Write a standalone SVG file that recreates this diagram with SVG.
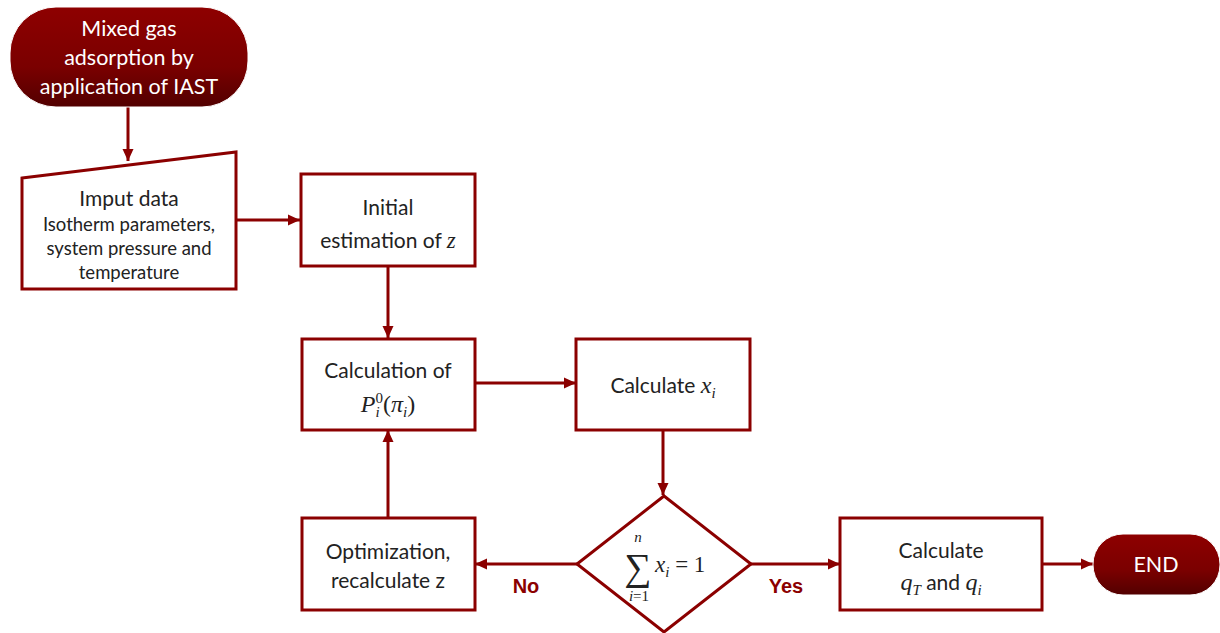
<svg xmlns="http://www.w3.org/2000/svg" width="1220" height="633" viewBox="0 0 1220 633">
<style>
.box{fill:#fff;stroke:#8b0000;stroke-width:3}
.term{fill:url(#g);stroke:#fff;stroke-width:1}
.t{font-family:Lato,"Noto Sans",sans-serif;font-size:21px;fill:#222;text-anchor:middle}
.s{font-size:18.5px}
.w{fill:#fff;font-size:21.5px}
.m{font-family:"Liberation Serif",serif;font-style:italic}
.n{font-family:"Liberation Serif",serif}
.c{fill:none;stroke:#8b0000;stroke-width:3}
.lab{font-family:"Liberation Sans",Arial,sans-serif;font-weight:bold;font-size:20px;fill:#8b0000;text-anchor:middle}
</style>
<defs>
<linearGradient id="g" x1="0" y1="0" x2="0" y2="1">
<stop offset="0" stop-color="#8e0000"/>
<stop offset="0.6" stop-color="#7a0000"/>
<stop offset="1" stop-color="#520000"/>
</linearGradient>
<marker id="a" markerWidth="13" markerHeight="12" refX="12" refY="6" orient="auto" markerUnits="userSpaceOnUse">
<path d="M0,0.5 L12,6 L0,11.5 Z" fill="#8b0000"/>
</marker>
</defs>
<rect width="1220" height="633" fill="#fff"/>
<g id="connectors">
<line class="c" x1="128" y1="106" x2="128" y2="161" marker-end="url(#a)"/>
<line class="c" x1="236" y1="220" x2="300" y2="220" marker-end="url(#a)"/>
<line class="c" x1="388" y1="266" x2="388" y2="338" marker-end="url(#a)"/>
<line class="c" x1="475" y1="383" x2="576" y2="383" marker-end="url(#a)"/>
<line class="c" x1="663" y1="430" x2="663" y2="495" marker-end="url(#a)"/>
<line class="c" x1="577" y1="564" x2="475" y2="564" marker-end="url(#a)"/>
<line class="c" x1="751" y1="564" x2="840" y2="564" marker-end="url(#a)"/>
<line class="c" x1="1042" y1="564" x2="1093" y2="564" marker-end="url(#a)"/>
<line class="c" x1="388" y1="518" x2="388" y2="430" marker-end="url(#a)"/>
<text class="lab" x="526" y="593">No</text>
<text class="lab" x="786" y="593">Yes</text>
</g>
<g id="start">
<rect class="term" x="10" y="7" width="238" height="100" rx="46"/>
<text class="t w" x="129" y="36">Mixed gas</text>
<text class="t w" x="129" y="65">adsorption by</text>
<text class="t w" x="129" y="94">application of IAST</text>
</g>
<g id="input">
<path class="box" d="M22,178 L236,152 L236,289 L22,289 Z"/>
<text class="t" x="129" y="206">Imput data</text>
<text class="t s" x="129" y="231">Isotherm parameters,</text>
<text class="t s" x="129" y="255">system pressure and</text>
<text class="t s" x="129" y="279">temperature</text>
</g>
<g id="init">
<rect class="box" x="301" y="174" width="174" height="92"/>
<text class="t" x="388" y="215">Initial</text>
<text class="t" x="388" y="248">estimation of <tspan class="m" font-size="23">z</tspan></text>
</g>
<g id="calcP">
<rect class="box" x="302" y="339" width="173" height="91"/>
<text class="t" x="388" y="378">Calculation of</text>
<text class="t" x="388" y="412"><tspan class="m" font-size="24">P</tspan><tspan class="m" font-size="15" dy="5">i</tspan><tspan class="n" font-size="15" dx="-4" dy="-14">0</tspan><tspan class="n" font-size="24" dy="9">(</tspan><tspan class="m" font-size="24">π</tspan><tspan class="m" font-size="15" dy="5">i</tspan><tspan class="n" font-size="24" dy="-5">)</tspan></text>
</g>
<g id="calcX">
<rect class="box" x="576" y="339" width="174" height="91"/>
<text class="t" x="663" y="393">Calculate <tspan class="m" font-size="24">x</tspan><tspan class="m" font-size="15" dy="5">i</tspan></text>
</g>
<g id="decision">
<path class="box" d="M664,496 L751,564 L664,632 L577,564 Z" stroke-width="2.5"/>
<text class="n" x="638" y="580" font-size="38" text-anchor="middle" fill="#222">∑</text>
<text class="m" x="638" y="542" font-size="15" text-anchor="middle" fill="#222">n</text>
<text x="639" y="601" font-size="15" text-anchor="middle" fill="#222" font-family="Liberation Serif,serif"><tspan font-style="italic">i</tspan>=1</text>
<text x="655" y="572" font-size="23" fill="#222" font-family="Liberation Serif,serif"><tspan font-style="italic">x</tspan><tspan font-style="italic" font-size="15" dy="5">i</tspan><tspan dy="-5"> = 1</tspan></text>
</g>
<g id="opt">
<rect class="box" x="302" y="518" width="173" height="92"/>
<text class="t" x="388" y="559">Optimization,</text>
<text class="t" x="388" y="588">recalculate z</text>
</g>
<g id="calcQ">
<rect class="box" x="840" y="518" width="202" height="92"/>
<text class="t" x="941" y="558">Calculate</text>
<text class="t" x="941" y="590"><tspan class="m" font-size="24">q</tspan><tspan class="m" font-size="15" dy="5">T</tspan><tspan dy="-5"> and  </tspan><tspan class="m" font-size="24">q</tspan><tspan class="m" font-size="15" dy="5">i</tspan></text>
</g>
<g id="end">
<rect class="term" x="1093" y="534" width="127" height="61" rx="30"/>
<text class="t w" x="1156" y="572">END</text>
</g>
</svg>
